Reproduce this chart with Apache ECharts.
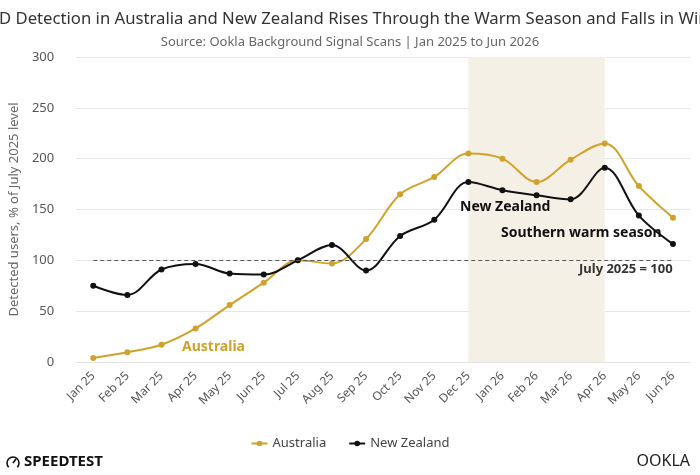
<!DOCTYPE html>
<html><head><meta charset="utf-8">
<script src="https://cdn.jsdelivr.net/npm/echarts@6/dist/echarts.min.js"></script>
<style>html,body{margin:0;padding:0;background:#fff}#c{width:700px;height:475px}</style>
</head><body><div id="c"></div>
<script>
const months = ['Jan 25','Feb 25','Mar 25','Apr 25','May 25','Jun 25','Jul 25','Aug 25','Sep 25','Oct 25','Nov 25','Dec 25','Jan 26','Feb 26','Mar 26','Apr 26','May 26','Jun 26'];
const australia = [4, 9.5, 17, 33, 56, 78, 100, 97, 121, 165, 182, 205, 200, 177, 199, 215, 173, 142];
const newZealand = [75, 66, 91, 96.5, 87, 86, 100, 115, 90, 124, 140, 177, 169, 164, 160, 191, 144, 116];
const yTicks = [0, 50, 100, 150, 200, 250, 300];
const warmStart = 'Dec 25', warmEnd = 'Apr 26';
const baseline = 100;

const GOLD = '#D1A22B', BLACK = '#111111', FONT = 'Noto Sans';
const chart = echarts.init(document.getElementById('c'), null, {renderer: 'canvas'});
chart.setOption({
  backgroundColor: '#fff',
  textStyle: {fontFamily: FONT},
  title: [
    {text: 'SSID Detection in Australia and New Zealand Rises Through the Warm Season and Falls in Winter', left: -30, top: 6,
     textStyle: {fontFamily: FONT, fontSize: 16.7, fontWeight: 'normal', color: '#333'}},
    {text: 'Source: Ookla Background Signal Scans | Jan 2025 to Jun 2026', left: 'center', top: 31,
     textStyle: {fontFamily: FONT, fontSize: 13, fontWeight: 'normal', color: '#666'}}
  ],
  legend: {bottom: 20, left: 'center', itemWidth: 16, itemHeight: 7, itemGap: 22,
    textStyle: {fontFamily: FONT, fontSize: 13, color: '#444'},
    data: ['Australia', 'New Zealand']},
  grid: {left: 74, right: 10, top: 57, bottom: 113},
  xAxis: {type: 'category', data: months, boundaryGap: true,
    axisLine: {show: true, lineStyle: {color: '#e3e3e3'}}, axisTick: {show: false},
    axisLabel: {rotate: 45, color: '#555', fontSize: 12, margin: 12, fontFamily: FONT}},
  yAxis: {type: 'value', min: yTicks[0], max: yTicks[yTicks.length-1], interval: 50,
    name: 'Detected users, % of July 2025 level', nameLocation: 'middle', nameGap: 40,
    nameTextStyle: {color: '#666', fontSize: 13, fontFamily: FONT},
    axisLabel: {color: '#555', fontSize: 13, margin: 22, fontFamily: FONT},
    splitLine: {lineStyle: {color: '#e6e6e6'}}, axisLine: {show: false}, axisTick: {show: false}},
  series: [
    {name: 'Australia', type: 'line', data: australia, smooth: 0.35, symbol: 'circle', symbolSize: 6,
     lineStyle: {color: GOLD, width: 2}, itemStyle: {color: GOLD}, z: 3,
     markArea: {silent: true, z: 1, itemStyle: {color: '#F4F0E5'}, data: [[{xAxis: warmStart}, {xAxis: warmEnd}]]},
     markLine: {silent: true, symbol: 'none', label: {show: false},
       lineStyle: {color: '#555', type: [4, 3], width: 1},
       data: [[{coord: [months[0], baseline]}, {coord: [months[months.length-1], baseline]}]]}},
    {name: 'New Zealand', type: 'line', data: newZealand, smooth: 0.35, symbol: 'circle', symbolSize: 6,
     lineStyle: {color: BLACK, width: 2}, itemStyle: {color: BLACK}, z: 4}
  ],
  graphic: [
    {type: 'text', z: 100, left: 182, top: 340, style: {text: 'Australia', fill: GOLD, font: 'bold 14px "Noto Sans"'}},
    {type: 'text', z: 100, left: 460, top: 200, style: {text: 'New Zealand', fill: '#111', font: 'bold 14px "Noto Sans"'}},
    {type: 'text', z: 100, left: 501, top: 226, style: {text: 'Southern warm season', fill: '#111', font: 'bold 14px "Noto Sans"'}},
    {type: 'text', z: 100, left: 579, top: 263, style: {text: 'July 2025 = 100', fill: '#333', font: 'bold 13px "Noto Sans"'}},
    {type: 'arc', z: 100, shape: {cx: 13, cy: 463, r: 6, startAngle: Math.PI * 0.75, endAngle: Math.PI * 2.25}, style: {stroke: '#111', lineWidth: 1.6, fill: null}},
    {type: 'line', z: 100, shape: {x1: 13, y1: 463, x2: 16, y2: 459}, style: {stroke: '#111', lineWidth: 1.6}},
    {type: 'text', z: 100, left: 24, top: 454, style: {text: 'SPEEDTEST', fill: '#111', font: 'bold 15px "Noto Sans"'}},
    {type: 'text', z: 100, right: 10, top: 453, style: {text: 'OOKLA', fill: '#222', font: '16px "Noto Sans"'}}
  ]
});
</script></body></html>
